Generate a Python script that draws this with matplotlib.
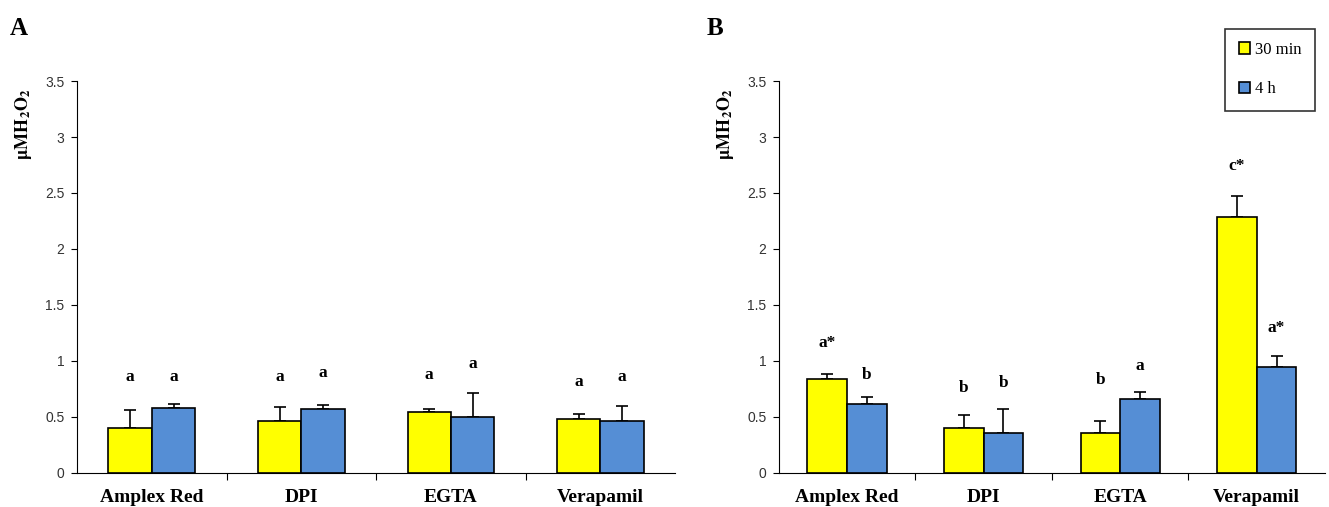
import numpy as np
import matplotlib.pyplot as plt

categories = ["Amplex Red", "DPI", "EGTA", "Verapamil"]

# panel A
a_30min = [0.40, 0.465, 0.545, 0.477]
a_30min_err = [0.16, 0.12, 0.025, 0.05]
a_4h = [0.58, 0.566, 0.50, 0.464]
a_4h_err = [0.03, 0.04, 0.21, 0.13]
a_lab_30 = ["a", "a", "a", "a"]
a_lab_4h = ["a", "a", "a", "a"]
a_lab_30_y = [0.855, 0.85, 0.87, 0.81]
a_lab_4h_y = [0.855, 0.89, 0.97, 0.85]

# panel B
b_30min = [0.834, 0.396, 0.352, 2.286]
b_30min_err = [0.047, 0.12, 0.112, 0.187]
b_4h = [0.613, 0.352, 0.658, 0.941]
b_4h_err = [0.06, 0.217, 0.065, 0.10]
b_lab_30 = ["a*", "b", "b", "c*"]
b_lab_4h = ["b", "b", "a", "a*"]
b_lab_30_y = [1.16, 0.756, 0.83, 2.74]
b_lab_4h_y = [0.872, 0.80, 0.95, 1.29]

yellow = "#FFFF00"
blue = "#558ED5"
serif = ["Liberation Serif", "DejaVu Serif"]
sans = ["Liberation Sans", "DejaVu Sans"]


def draw_panel(ax, v30, e30, v4, e4, lab30, lab4, y30, y4, label_x):
    x = np.arange(len(categories))
    w = 0.29
    ax.bar(x - w / 2, v30, w, color=yellow, edgecolor="black", linewidth=1.2,
           label="30 min", zorder=2)
    ax.bar(x + w / 2, v4, w, color=blue, edgecolor="black", linewidth=1.2,
           label="4 h", zorder=2)
    ax.errorbar(x - w / 2, v30, yerr=[np.zeros(len(x)), e30], fmt="none",
                ecolor="black", elinewidth=1.2, capsize=4, capthick=1.2, zorder=1)
    ax.errorbar(x + w / 2, v4, yerr=[np.zeros(len(x)), e4], fmt="none",
                ecolor="black", elinewidth=1.2, capsize=4, capthick=1.2, zorder=1)
    for i in range(len(x)):
        ax.text(x[i] - w / 2, y30[i], lab30[i], ha="center", va="center",
                fontsize=12.5, fontweight="bold", family=serif)
        ax.text(x[i] + w / 2, y4[i], lab4[i], ha="center", va="center",
                fontsize=12.5, fontweight="bold", family=serif)

    ax.set_xlim(-0.5, 3.5)
    ax.set_ylim(0, 3.5)
    ax.set_yticks([0, 0.5, 1, 1.5, 2, 2.5, 3, 3.5])
    ax.set_yticklabels(["0", "0.5", "1", "1.5", "2", "2.5", "3", "3.5"],
                       family=sans, fontsize=10, color="#333333")
    ax.set_xticks([0.5, 1.5, 2.5])
    ax.set_xticklabels([])
    ax.set_xticks(x, categories, minor=True)
    ax.tick_params(axis="x", which="minor", length=0, pad=12)
    ax.tick_params(axis="x", which="major", length=5, direction="out")
    ax.tick_params(axis="y", length=4, direction="out", pad=5)
    for t in ax.get_xticklabels(minor=True):
        t.set_fontfamily(serif)
        t.set_fontweight("bold")
        t.set_fontsize(14)
    ax.spines["top"].set_visible(False)
    ax.spines["right"].set_visible(False)
    ax.set_ylabel(r"$\mathbf{\mu M H_2O_2}$", fontsize=13)
    ax.yaxis.set_label_coords(label_x, 0.89)


fig = plt.figure(figsize=(13.29, 5.07), dpi=100)
plt.rcParams["mathtext.fontset"] = "stix"
axA = fig.add_axes([0.058, 0.068, 0.45, 0.772])
axB = fig.add_axes([0.586, 0.068, 0.411, 0.772])

draw_panel(axA, a_30min, a_30min_err, a_4h, a_4h_err,
           a_lab_30, a_lab_4h, a_lab_30_y, a_lab_4h_y, -0.072)
draw_panel(axB, b_30min, b_30min_err, b_4h, b_4h_err,
           b_lab_30, b_lab_4h, b_lab_30_y, b_lab_4h_y, -0.079)

fig.text(0.007, 0.93, "A", fontsize=18, fontweight="bold", family=serif)
fig.text(0.532, 0.93, "B", fontsize=18, fontweight="bold", family=serif)

leg = axB.legend(loc="upper right", bbox_to_anchor=(0.997, 1.155),
                 prop={"family": serif, "size": 12}, frameon=True,
                 fancybox=False, edgecolor="black", handlelength=0.7,
                 handleheight=0.7, handletextpad=0.3, labelspacing=1.4,
                 borderpad=0.8)
leg.get_frame().set_linewidth(1.2)

plt.savefig("out.png", dpi=100)
